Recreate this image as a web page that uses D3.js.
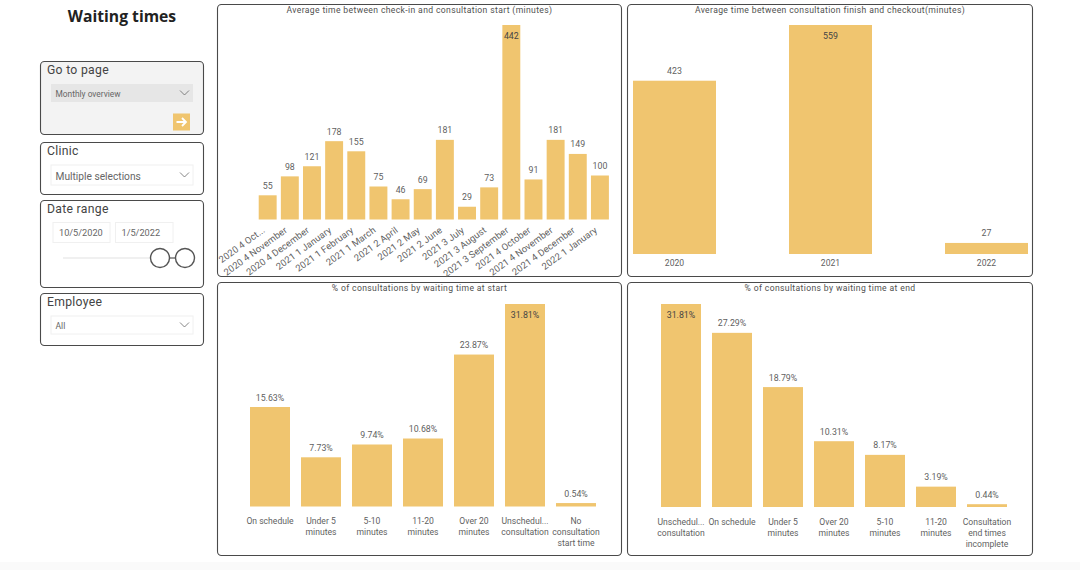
<!DOCTYPE html>
<html>
<head>
<meta charset="utf-8">
<script src="https://cdn.jsdelivr.net/npm/d3@7"></script>
<style>
  html, body { margin: 0; padding: 0; background: #fff; overflow: hidden; }
  text { font-family: Roboto, sans-serif; }
</style>
</head>
<body>
<div id="dash"></div>
<script>
const BAR_COLOR = "#f0c56f";
const TEXT_COLOR = "#5f5f5f";

// Chart data
const checkInMonths = ["2020 4 Oct...", "2020 4 November", "2020 4 December", "2021 1 January", "2021 1 February", "2021 1 March", "2021 2 April", "2021 2 May", "2021 2 June", "2021 3 July", "2021 3 August", "2021 3 September", "2021 4 October", "2021 4 November", "2021 4 December", "2022 1 January"];
const checkInValues = [55, 98, 121, 178, 155, 75, 46, 69, 181, 29, 73, 442, 91, 181, 149, 100];

const checkoutYears = ["2020", "2021", "2022"];
const checkoutValues = [423, 559, 27];

const startCategories = ["On schedule", "Under 5\nminutes", "5-10\nminutes", "11-20\nminutes", "Over 20\nminutes", "Unschedul...\nconsultation", "No\nconsultation\nstart time"];
const startValues = [15.63, 7.73, 9.74, 10.68, 23.87, 31.81, 0.54];

const endCategories = ["Unschedul...\nconsultation", "On schedule", "Under 5\nminutes", "Over 20\nminutes", "5-10\nminutes", "11-20\nminutes", "Consultation\nend times\nincomplete"];
const endValues = [31.81, 27.29, 18.79, 10.31, 8.17, 3.19, 0.44];

const svg = d3.select("#dash").append("svg")
    .attr("width", 1080)
    .attr("height", 570)
    .style("display", "block");

// strip at the bottom of the report canvas
svg.append("rect").attr("x", 0).attr("y", 562).attr("width", 1080).attr("height", 8).attr("fill", "#fafafa");

const drawBox = (x, y, w, h, fill) => {
    svg.append("rect")
        .attr("x", x + 0.5).attr("y", y + 0.5)
        .attr("width", w).attr("height", h)
        .attr("rx", 4)
        .attr("fill", fill || "#fff")
        .attr("stroke", "#4a4a4a")
        .attr("stroke-width", 1.1);
};

const drawChart = (opts) => {
    drawBox(opts.box[0], opts.box[1], opts.box[2], opts.box[3]);

    svg.append("text")
        .attr("x", opts.box[0] + opts.box[2] / 2 + 0.5)
        .attr("y", opts.box[1] + 8.5)
        .attr("text-anchor", "middle")
        .attr("font-size", 8.6)
        .attr("letter-spacing", 0.36)
        .attr("fill", "#505050")
        .text(opts.title);

    const x = d3.scaleBand()
        .domain(opts.categories)
        .range(opts.xRange)
        .paddingInner(opts.padding)
        .paddingOuter(opts.padding / 2);

    const y = d3.scaleLinear()
        .domain([0, d3.max(opts.values)])
        .range(opts.yRange);

    const rows = opts.categories.map((c, i) => ({ c, v: opts.values[i] }));
    const g = svg.append("g");

    g.selectAll("rect")
        .data(rows)
        .join("rect")
        .attr("x", d => x(d.c))
        .attr("y", d => y(d.v))
        .attr("width", x.bandwidth())
        .attr("height", d => y(0) - y(d.v))
        .attr("fill", BAR_COLOR);

    // the tallest bar carries its label inside
    g.selectAll(".val")
        .data(rows)
        .join("text")
        .attr("class", "val")
        .attr("x", d => x(d.c) + x.bandwidth() / 2)
        .attr("y", d => d.v === d3.max(opts.values) ? y(d.v) + 13.5 : y(d.v) - 6.5)
        .attr("text-anchor", "middle")
        .attr("font-size", 8.8)
        .attr("fill", d => d.v === d3.max(opts.values) ? "#444" : TEXT_COLOR)
        .text(d => opts.format(d.v));

    const axis = g.append("g")
        .attr("transform", `translate(0,${opts.yRange[0]})`)
        .call(d3.axisBottom(x).tickSize(0).tickPadding(0));
    axis.select(".domain").remove();

    const labels = axis.selectAll("text")
        .attr("fill", TEXT_COLOR)
        .attr("font-size", 8.6)
        .style("font-family", "Roboto, sans-serif");

    if (opts.rotate) {
        labels.attr("text-anchor", "end")
            .attr("dy", 0)
            .attr("y", 0)
            .attr("transform", `translate(-2,12) rotate(-36)`)
            .attr("font-size", 9.4)
            .attr("letter-spacing", 0.1);
    } else {
        labels.attr("y", opts.labelY)
            .attr("dy", 0)
            .each(function(d) {
                const t = d3.select(this).text(null);
                d.split("\n").forEach((line, i) => {
                    t.append("tspan")
                        .attr("x", 0)
                        .attr("dy", i === 0 ? 0 : 11)
                        .text(line);
                });
            });
    }
};

drawChart({
    box: [217, 4, 404, 272],
    title: "Average time between check-in and consultation start (minutes)",
    categories: checkInMonths,
    values: checkInValues,
    xRange: [256.6, 611],
    yRange: [219.5, 25],
    padding: 0.19,
    format: d3.format("d"),
    rotate: true
});

drawChart({
    box: [627, 4, 405, 272],
    title: "Average time between consultation finish and checkout(minutes)",
    categories: checkoutYears,
    values: checkoutValues,
    xRange: [596.5, 1064.5],
    yRange: [254, 25],
    padding: 0.468,
    format: d3.format("d"),
    labelY: 11.5
});

drawChart({
    box: [217, 282, 404, 273],
    title: "% of consultations by waiting time at start",
    categories: startCategories,
    values: startValues,
    xRange: [244.5, 601.5],
    yRange: [506.5, 304],
    padding: 0.216,
    format: d => d.toFixed(2) + "%",
    labelY: 17.5
});

drawChart({
    box: [627, 282, 405, 273],
    title: "% of consultations by waiting time at end",
    categories: endCategories,
    values: endValues,
    xRange: [655.5, 1012.5],
    yRange: [507, 304],
    padding: 0.216,
    format: d => d.toFixed(2) + "%",
    labelY: 17.5
});

// Left hand slicer panel
svg.append("text")
    .attr("x", 122).attr("y", 22)
    .attr("text-anchor", "middle")
    .style("font-family", "'Open Sans', sans-serif")
    .attr("font-weight", 700)
    .attr("font-size", 15.7)
    .attr("fill", "#222")
    .text("Waiting times");

const slicerTitle = (x, y, label) => {
    svg.append("text")
        .attr("x", x).attr("y", y)
        .attr("font-size", 12.2)
        .attr("letter-spacing", 0.3)
        .attr("fill", "#444")
        .text(label);
};

const dropdown = (x, y, w, h, label, size, fill) => {
    svg.append("rect")
        .attr("x", x).attr("y", y).attr("width", w).attr("height", h)
        .attr("fill", fill)
        .attr("stroke", fill === "#fff" ? "#f0f0f0" : "none");
    svg.append("text")
        .attr("x", x + 4.5).attr("y", y + h / 2 + size * 0.36 + 1)
        .attr("font-size", size)
        .attr("fill", "#666")
        .text(label);
    svg.append("path")
        .attr("d", `M${x + w - 13},${y + h / 2 - 2.5}l4.5,4.5l4.5,-4.5`)
        .attr("fill", "none")
        .attr("stroke", "#666")
        .attr("stroke-width", 0.8);
};

drawBox(40, 61, 163, 73, "#f3f3f3");
slicerTitle(47, 74, "Go to page");
dropdown(51, 84, 142, 18, "Monthly overview", 8.4, "#e6e6e6");
svg.append("rect").attr("x", 173).attr("y", 113.5).attr("width", 17).attr("height", 17).attr("fill", BAR_COLOR);
svg.append("path")
    .attr("d", "M176.5,122h9M182,118l4,4l-4,4")
    .attr("fill", "none")
    .attr("stroke", "#fff")
    .attr("stroke-width", 1.8);

drawBox(40, 142, 163, 52);
slicerTitle(47, 155, "Clinic");
dropdown(51, 165, 142, 20, "Multiple selections", 10.2, "#fff");

drawBox(40, 200, 163, 87);
slicerTitle(47, 213, "Date range");
[[53, 57, "10/5/2020"], [115.5, 57.5, "1/5/2022"]].forEach(d => {
    svg.append("rect").attr("x", d[0]).attr("y", 222.5).attr("width", d[1]).attr("height", 20)
        .attr("fill", "#fff").attr("stroke", "#f0f0f0");
    svg.append("text").attr("x", d[0] + 6).attr("y", 236)
        .attr("font-size", 9.2).attr("fill", "#666").text(d[2]);
});
svg.append("line").attr("x1", 63).attr("x2", 160).attr("y1", 258).attr("y2", 258)
    .attr("stroke", "#f0f0f0").attr("stroke-width", 2);
svg.append("line").attr("x1", 170).attr("x2", 176).attr("y1", 258).attr("y2", 258)
    .attr("stroke", "#555").attr("stroke-width", 1.2);
[160, 185].forEach(cx => {
    svg.append("circle").attr("cx", cx).attr("cy", 258).attr("r", 9.5)
        .attr("fill", "#fff").attr("stroke", "#555").attr("stroke-width", 1.4);
});

drawBox(40, 293, 163, 52);
slicerTitle(47, 306, "Employee");
dropdown(51, 316, 142, 18, "All", 8.6, "#fff");
</script>
</body>
</html>
